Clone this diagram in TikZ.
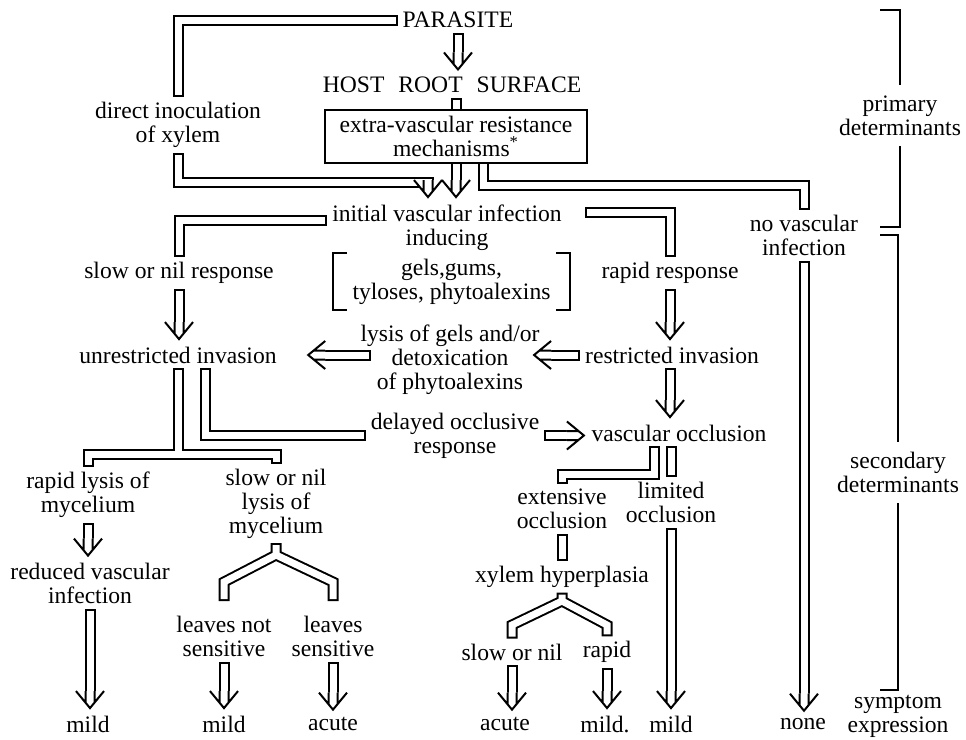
\documentclass[tikz,border=0pt]{standalone}
\usepackage{fontspec}
\setmainfont{Liberation Serif}
\usetikzlibrary{arrows.meta,calc}

\pgfdeclarearrow{
  name = Hollow,
  setup code = {
    \pgfarrowssettipend{-1.45pt}
    \pgfarrowssetlineend{-7pt}
    \pgfarrowssetbackend{-8.5pt}
    \pgfarrowssetvisualbackend{-8.5pt}
    \pgfarrowshullpoint{0.8pt}{0pt}
    \pgfarrowsupperhullpoint{-8.5pt}{7pt}
  },
  drawing code = {
    \pgfsetdash{}{0pt}
    \pgfsetbuttcap
    \pgfsetmiterjoin
    \pgfsetlinewidth{1pt}
    \pgfsetfillcolor{white}
    \pgfpathmoveto{\pgfpoint{-8.5pt}{7pt}}
    \pgfpathlineto{\pgfpointorigin}
    \pgfpathlineto{\pgfpoint{-8.5pt}{-7pt}}
    \pgfpathclose
    \pgfusepathqfill
    \pgfpathmoveto{\pgfpoint{-8.5pt}{7pt}}
    \pgfpathlineto{\pgfpointorigin}
    \pgfpathlineto{\pgfpoint{-8.5pt}{-7pt}}
    \pgfpathmoveto{\pgfpoint{-8.5pt}{2.25pt}}
    \pgfpathlineto{\pgfpoint{-2.73pt}{2.25pt}}
    \pgfpathmoveto{\pgfpoint{-8.5pt}{-2.25pt}}
    \pgfpathlineto{\pgfpoint{-2.73pt}{-2.25pt}}
    \pgfusepathqstroke
  }
}

\begin{document}
\begin{tikzpicture}[
    x=0.5pt, y=-0.5pt,
    every node/.style={align=center, inner sep=1pt, outer sep=4.25pt,
        font=\fontsize{11.8}{12}\selectfont},
    box/.style={
        draw,
        line width=1pt,
        outer sep=0pt,
        minimum width=131pt,
        minimum height=26.5pt
    },
    pipe/.style={
        draw,
        double,
        double distance=3.5pt,
        line width=1pt,
        line cap=rect,
        line join=miter
    },
    arrow/.style={
        pipe,
        -{Hollow}
    },
    side/.style={line width=1pt}
]
\useasboundingbox (0,0) rectangle (966,740);

\node (parasite) at (458,20) {PARASITE};
\node (host) at (452,85) {{\spaceskip=7pt HOST ROOT SURFACE}};
\node[box] (mech) at (456,136.5) {extra-vascular resistance\\mechanisms\textsuperscript{*}};
\node (direct) at (178,125) {direct inoculation\\of xylem};
\node (initial) at (447,227.5) {initial vascular infection\\inducing};
\node (novasc) at (804,235.5) {no vascular\\infection};
\node[minimum width=118.5pt, minimum height=28.5pt, inner sep=0pt, outer sep=0pt]
    (gels) at (451.5,281.5) {gels,gums,\\tyloses, phytoalexins};
\node (slow) at (179,273) {slow or nil response};
\node (rapid) at (670,273) {rapid response};
\node (unres) at (178,355) {unrestricted invasion};
\node (lysis) at (450,360) {lysis of gels and/or\\detoxication\\of phytoalexins};
\node (restr) at (672,355) {restricted invasion};
\node (delayed) at (455,435.5) {delayed occlusive\\response};
\node (vocc) at (679,433) {vascular occlusion};
\node (rlysis) at (88,495) {rapid lysis of\\mycelium};
\node (slysis) at (276,503.5) {slow or nil\\lysis of\\mycelium};
\node (extocc) at (562,509) {extensive\\occlusion};
\node (limocc) at (671,502.5) {limited\\occlusion};
\node (reduced) at (90,583.5) {reduced vascular\\infection};
\node (xylem) at (562,577) {xylem hyperplasia};
\node (notsens) at (224,636.5) {leaves not\\sensitive};
\node (sens) at (333,636.5) {leaves\\sensitive};
\node (slow2) at (512,652) {slow or nil};
\node (rapid2) at (607,652) {rapid};
\node (mild1) at (88,724) {mild};
\node (mild2) at (224,724) {mild};
\node (acute1) at (333,724) {acute};
\node (acute2) at (505,724) {acute};
\node (mild3) at (605,724) {mild.};
\node (mild4) at (671,724) {mild};
\node (none) at (803,724) {none};
\node (primary) at (900,115.5) {primary\\determinants};
\node (second) at (898,472.5) {secondary\\determinants};
\node (symptom) at (898,716) {symptom\\expression};

\coordinate (jn) at (428,182);
\coordinate (nvb) at (804,185);
\coordinate (rs) at (590.5,212);
\coordinate (tj) at (178,454);
\coordinate (eb) at (562,474);
\coordinate (la) at (276,555);
\coordinate (lk) at (276,582);
\coordinate (ya) at (562,601);
\coordinate (yk) at (562,625);
\coordinate (pt1) at (880,10);
\coordinate (pt2) at (880,227);
\coordinate (st1) at (880,235);
\coordinate (st2) at (880,690);

\draw[arrow] (parasite.south) -- (parasite.south |- host.north);
\draw[pipe] (parasite.west) -| (direct.north);
\draw[pipe, shorten >=2.25pt] (mech.north |- host.south) -- (mech.north);
\draw[arrow] (direct.south) |- (jn) -- (jn |- initial.north);
\draw[arrow, shorten <=2.25pt] (mech.south) -- (mech.south |- initial.north);
\draw[pipe, shorten <=2.25pt] ($(mech.south)+(27,0)$) |- (nvb) -- (novasc.north);

\draw[pipe] ([yshift=3.75pt]initial.west) -| (slow.north);
\draw[pipe] (rs) -| (rapid.north);
\draw[side] ([xshift=7pt]gels.north west) -| (gels.south west) -- ++(7pt,0);
\draw[side] ([xshift=-7pt]gels.north east) -| (gels.south east) -- ++(-7pt,0);

\draw[arrow] (slow.south) -- (slow.south |- unres.north);
\draw[arrow] (rapid.south) -- (rapid.south |- restr.north);
\draw[arrow] (restr.west) -- ($(restr.west -| lysis.east)+(-13,0)$);
\draw[arrow] ($(unres.east -| lysis.west)+(15,0)$) -- ($(unres.east)+(24,0)$);
\draw[arrow] (rapid.south |- restr.south) -- (rapid.south |- vocc.north);

\draw[pipe] (unres.south) -- (tj) (rlysis.north) |- (tj) -| (slysis.north);
\draw[pipe] ($(unres.south)+(27,0)$) |- (delayed.west);
\draw[arrow] (delayed.east) -- (delayed.east -| vocc.west);
\draw[pipe] ($(vocc.south)+(-25,0)$) |- (extocc.north |- eb) -- (extocc.north);
\draw[pipe] (limocc.north |- vocc.south) -- (limocc.north);

\draw[arrow] (rlysis.south) -- (rlysis.south |- reduced.north);
\draw[pipe] ($(notsens.north)+(0,-10)$) -- (notsens.north |- lk) -- (la)
    -- (sens.north |- lk) -- ($(sens.north)+(0,-10)$) (slysis.south) -- (la);
\draw[pipe] (extocc.south) -- (extocc.south |- xylem.north);
\draw[pipe] (slow2.north) -- (slow2.north |- yk) -- (ya)
    -- (rapid2.north |- yk) -- (rapid2.north) (xylem.south) -- (ya);

\draw[arrow] (reduced.south) -- (reduced.south |- mild1.north);
\draw[arrow] (notsens.south) -- (notsens.south |- mild2.north);
\draw[arrow] (sens.south) -- (sens.south |- acute1.north);
\draw[arrow] (slow2.south) -- (slow2.south |- acute2.north);
\draw[arrow] (rapid2.south) -- (rapid2.south |- mild3.north);
\draw[arrow] (limocc.south) -- (limocc.south |- mild4.north);
\draw[arrow] (novasc.south) -- (novasc.south |- none.north);

\draw[side] (pt1) -| (primary.north);
\draw[side] (primary.south) |- (pt2);
\draw[side] (st1) -| (second.north);
\draw[side] (second.south) |- (st2);

\end{tikzpicture}
\end{document}
